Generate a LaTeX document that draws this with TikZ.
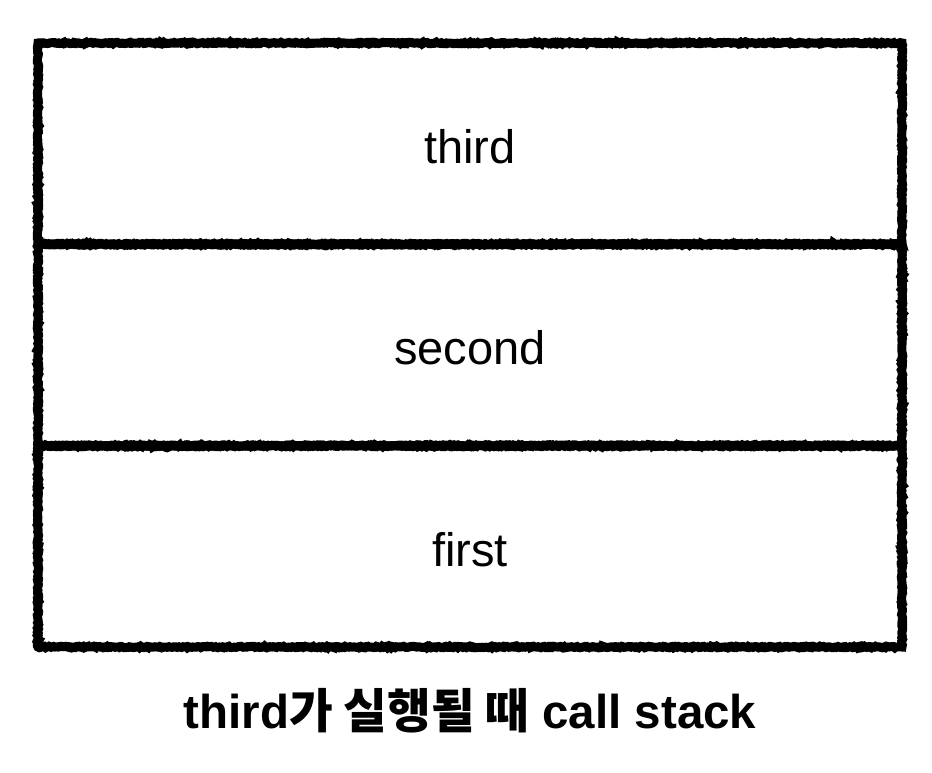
\documentclass[tikz,border=0pt]{standalone}
\usepackage{fontspec}
\setmainfont{Liberation Sans}
\newfontfamily\krfont{Noto Sans CJK KR}
\usetikzlibrary{decorations.pathmorphing}
\begin{document}
\begin{tikzpicture}[x=1pt,y=-1pt,
  framebox/.style={draw=black, line width=9pt, minimum width=864pt, minimum height=201pt,
    inner sep=0pt, decorate, decoration={random steps, segment length=1.5pt, amplitude=0.7pt}},
  boxlabel/.style={font=\fontsize{47}{52}\selectfont, inner sep=0pt},
  caption/.style={font=\fontsize{47.5}{54}\selectfont\bfseries}]
\pgfmathsetseed{7}
\useasboundingbox (0,0) rectangle (932,772);
\node[framebox] (third) at (470,143.5) {};
\node[framebox] (second) at (470,345) {};
\node[framebox] (first) at (470,546.5) {};
\node[boxlabel] (thirdtext) at ([yshift=-3pt]third.center) {third};
\node[boxlabel] (secondtext) at ([yshift=-3pt]second.center) {second};
\node[boxlabel] (firsttext) at ([yshift=-3pt]first.center) {first};
\node[caption] (cap) at (470,711) {third{\krfont\bfseries 가 실행될 때} call stack};
\end{tikzpicture}
\end{document}
